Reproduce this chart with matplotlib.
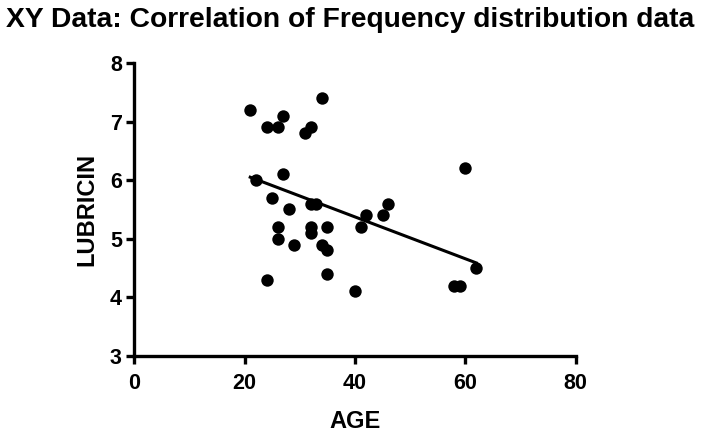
import numpy as np
import matplotlib.pyplot as plt

plt.rcParams['font.family'] = ['Liberation Sans', 'DejaVu Sans']

age = [21, 24, 26, 27, 31, 32, 34, 22, 27, 25, 28, 32, 33, 26, 32, 35,
       41, 26, 29, 32, 34, 35, 35, 24, 40, 60, 46, 45, 42, 62, 58, 59]
lubricin = [7.2, 6.9, 6.9, 7.1, 6.8, 6.9, 7.4, 6.0, 6.1, 5.7, 5.5, 5.6, 5.6, 5.2, 5.2, 5.2,
            5.2, 5.0, 4.9, 5.1, 4.9, 4.8, 4.4, 4.3, 4.1, 6.2, 5.6, 5.4, 5.4, 4.5, 4.2, 4.2]
xticks = [0, 20, 40, 60, 80]
yticks = [3, 4, 5, 6, 7, 8]

fig = plt.figure(figsize=(7.15, 4.34), dpi=100)
ax = fig.add_axes([0.188, 0.18, 0.617, 0.675])

ax.scatter(age, lubricin, s=80, color='black', zorder=3, linewidths=0)

# linear regression over the data range
slope, icpt = np.polyfit(age, lubricin, 1)
xs = np.array([min(age), max(age)])
ax.plot(xs, slope * xs + icpt, color='black', lw=2.2, zorder=2)

ax.set_xlim(0, 80)
ax.set_ylim(3, 8)
ax.set_xticks(xticks)
ax.set_yticks(yticks)
for s in ['top', 'right']:
    ax.spines[s].set_visible(False)
for s in ['left', 'bottom']:
    ax.spines[s].set_linewidth(2.4)
ax.tick_params(width=2.4, length=6, labelsize=15.5)
ax.tick_params(axis='x', pad=6)
ax.tick_params(axis='y', pad=3)
for lab in ax.get_xticklabels() + ax.get_yticklabels():
    lab.set_fontweight('bold')

ax.set_xlabel('AGE', fontsize=17, fontweight='bold', labelpad=12)
ax.set_ylabel('LUBRICIN', fontsize=17, fontweight='bold', labelpad=8)
fig.text(0.008, 0.953, 'XY Data: Correlation of Frequency distribution data',
         fontsize=20.3, fontweight='bold', va='center', ha='left')

fig.savefig('out.png', dpi=100)
